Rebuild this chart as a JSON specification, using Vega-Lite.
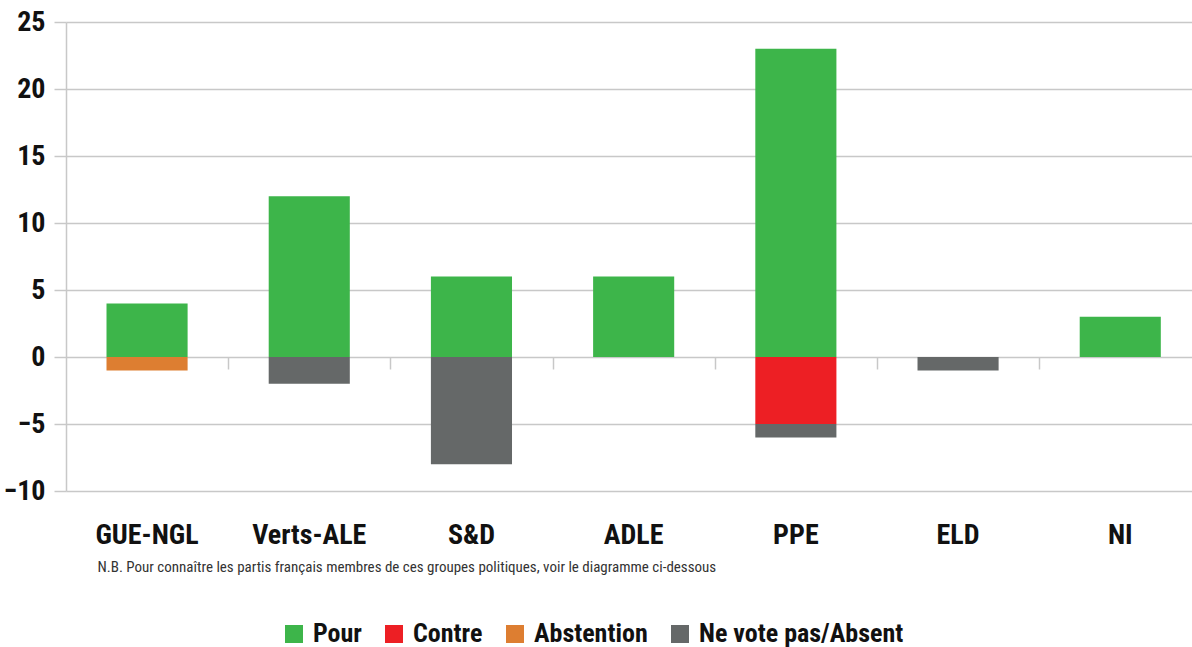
{
  "$schema": "https://vega.github.io/schema/vega-lite/v6.json",
  "autosize": {"type": "none"},
  "padding": {"left": 66, "top": 22, "right": 0, "bottom": 156},
  "width": 1126,
  "height": 469,
  "background": "#ffffff",
  "config": {
    "view": {"stroke": null},
    "font": "Roboto Condensed, Liberation Sans Narrow, DejaVu Sans Condensed, sans-serif"
  },
  "data": {
    "values": [
      {"groupe": "GUE-NGL", "vote": "Pour", "ordre": 1, "n": 4},
      {"groupe": "GUE-NGL", "vote": "Abstention", "ordre": 3, "n": -1},
      {"groupe": "Verts-ALE", "vote": "Pour", "ordre": 1, "n": 12},
      {"groupe": "Verts-ALE", "vote": "Ne vote pas/Absent", "ordre": 4, "n": -2},
      {"groupe": "S&D", "vote": "Pour", "ordre": 1, "n": 6},
      {"groupe": "S&D", "vote": "Ne vote pas/Absent", "ordre": 4, "n": -8},
      {"groupe": "ADLE", "vote": "Pour", "ordre": 1, "n": 6},
      {"groupe": "PPE", "vote": "Pour", "ordre": 1, "n": 23},
      {"groupe": "PPE", "vote": "Contre", "ordre": 2, "n": -5},
      {"groupe": "PPE", "vote": "Ne vote pas/Absent", "ordre": 4, "n": -1},
      {"groupe": "ELD", "vote": "Ne vote pas/Absent", "ordre": 4, "n": -1},
      {"groupe": "NI", "vote": "Pour", "ordre": 1, "n": 3}
    ]
  },
  "resolve": {"axis": {"x": "independent"}},
  "layer": [
    {
      "mark": {"type": "bar"},
      "encoding": {
        "x": {
          "field": "groupe", "type": "nominal",
          "sort": ["GUE-NGL", "Verts-ALE", "S&D", "ADLE", "PPE", "ELD", "NI"],
          "scale": {"paddingInner": 0.5, "paddingOuter": 0.221, "align": 0.565},
          "axis": {
            "orient": "bottom", "offset": -134, "labels": false, "title": null,
            "domain": false, "ticks": true, "tickOffset": 81.1, "tickSize": 12,
            "tickColor": "#c8c8c8", "tickWidth": 1.5, "grid": false
          }
        },
        "y": {
          "field": "n", "type": "quantitative", "stack": "zero",
          "scale": {"domain": [-10, 25], "nice": false},
          "axis": {
            "values": [-10, -5, 0, 5, 10, 15, 20, 25],
            "title": null, "grid": true, "gridColor": "#c8c8c8", "gridWidth": 1.5,
            "domain": true, "domainColor": "#c8c8c8", "domainWidth": 1.5,
            "ticks": true, "tickSize": 12, "tickColor": "#c8c8c8", "tickWidth": 1.5,
            "labelFontSize": 28, "labelFontWeight": "bold", "labelColor": "#111111",
            "labelPadding": 9
          }
        },
        "color": {
          "field": "vote", "type": "nominal",
          "scale": {
            "domain": ["Pour", "Contre", "Abstention", "Ne vote pas/Absent"],
            "range": ["#3db54a", "#ed1f24", "#dd7e31", "#656868"]
          },
          "legend": {
            "title": null, "orient": "none", "direction": "horizontal",
            "legendX": 215, "legendY": 599,
            "symbolType": "square", "symbolSize": 324, "symbolStrokeWidth": 0,
            "labelFontSize": 26, "labelFontWeight": "bold", "labelColor": "#111111",
            "labelOffset": 6, "columnPadding": 19, "labelLimit": 400
          }
        },
        "order": {"field": "ordre", "type": "quantitative"}
      }
    },
    {
      "mark": {"type": "text"},
      "encoding": {
        "x": {
          "field": "groupe", "type": "nominal",
          "sort": ["GUE-NGL", "Verts-ALE", "S&D", "ADLE", "PPE", "ELD", "NI"],
          "axis": {
            "orient": "bottom", "domain": false, "ticks": false, "tickSize": 0,
            "labelAngle": 0, "labelFontSize": 28, "labelFontWeight": "bold",
            "labelColor": "#111111", "labelPadding": 30,
            "title": "N.B. Pour connaître les partis français membres de ces groupes politiques, voir le diagramme ci-dessous",
            "titleFontSize": 15, "titleFontWeight": "normal", "titleColor": "#333333",
            "titleAnchor": "start", "titleAlign": "left", "titleX": 31, "titlePadding": 10
          }
        },
        "text": {"value": ""}
      }
    }
  ]
}
